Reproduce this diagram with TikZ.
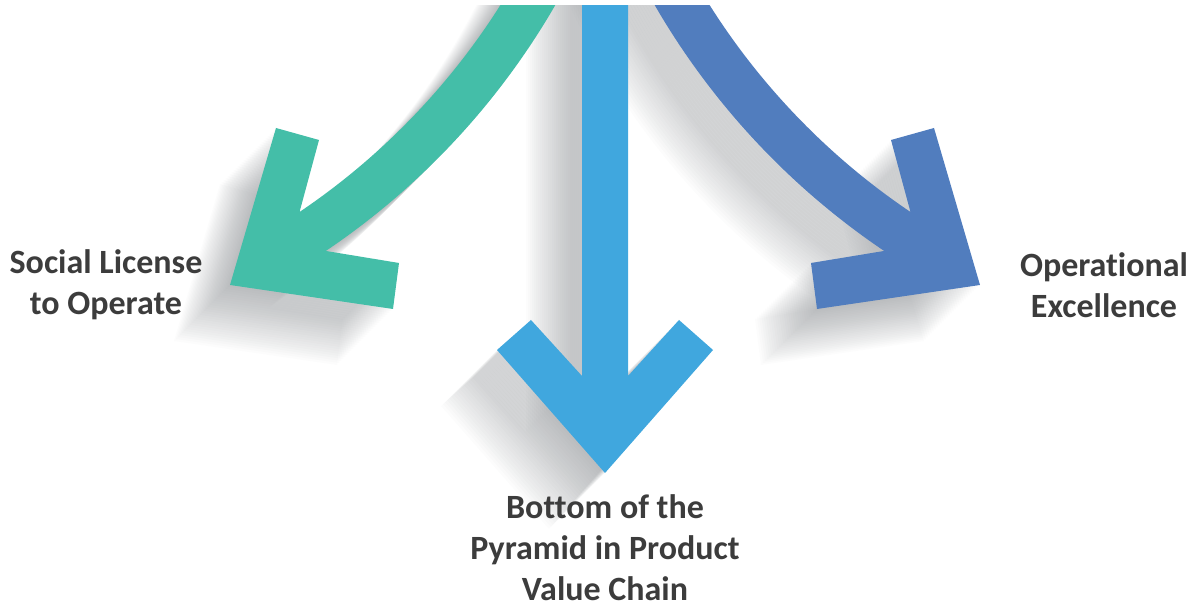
\documentclass[tikz,border=0pt]{standalone}
\usepackage{fontspec}
\setmainfont{Carlito}[Ligatures=NoCommon]
\usetikzlibrary{calc}

\definecolor{greenarrow}{RGB}{68,190,168}
\definecolor{bluearrow}{RGB}{64,167,222}
\definecolor{darkarrow}{RGB}{81,125,190}
\definecolor{shadowgray}{RGB}{95,100,105}
\definecolor{labelgray}{RGB}{60,60,60}

% left curved arrow (the right one is the same, mirrored)
\newcommand{\curvedarrow}{($(-93,979)+(-20:702)$) arc[start angle=-20,end angle=-56,radius=702] -- (319,469) -- (276,481) -- (230,324) -- (393,300) -- (399,346) -- ($(-93,979)+(-56:749)$) arc[start angle=-56,end angle=-20,radius=749] -- cycle}
\newcommand{\straightarrow}{(582,700) -- (582,233) -- (531,289) -- (497,259) -- (605,136) -- (713,259) -- (679,289) -- (628,233) -- (628,700) -- cycle}

\begin{document}
\begin{tikzpicture}[x=1pt, y=1pt, node distance=124pt,
    label node/.style={font=\bfseries\fontsize{34}{41}\selectfont, text=labelgray, align=center, inner sep=0pt}]
    \useasboundingbox (0,0) rectangle (1197,609);

    \begin{scope}
      \clip (0,0) rectangle (1197,603);
      % long shadows
      \foreach \s in {2,4,...,56} {
        \fill[shadowgray, opacity=0.018, shift={(-\s,-\s)}] \curvedarrow;
        \fill[shadowgray, opacity=0.018, shift={(-\s,-\s)}] \straightarrow;
        \fill[shadowgray, opacity=0.018, xshift=1210pt, xscale=-1, shift={(\s,-\s)}] \curvedarrow;
      }
      % arrows
      \fill[greenarrow] \curvedarrow;
      \fill[bluearrow] \straightarrow;
      \fill[darkarrow, xshift=1210pt, xscale=-1] \curvedarrow;
    \end{scope}

    \coordinate (t1) at (230,324);
    \coordinate (t2) at (605,136);
    \coordinate (t3) at (980,324);

    \node[label node] (1) [left of=t1] {Social License\\to Operate};
    \node[label node] (2) [below of=t2, node distance=75pt] {Bottom of the\\Pyramid in Product\\Value Chain};
    \node[label node] (3) [right of=t3] {Operational\\Excellence};
\end{tikzpicture}
\end{document}
